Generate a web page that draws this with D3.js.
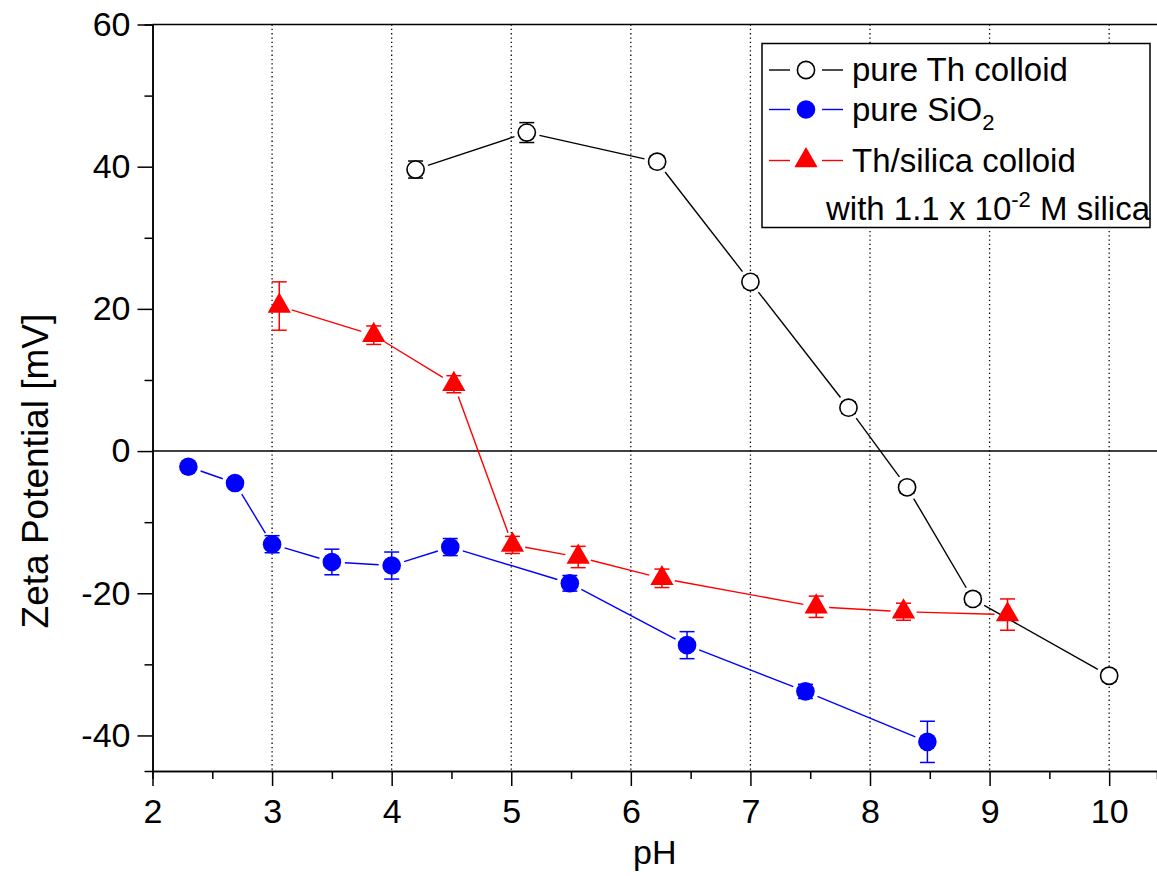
<!DOCTYPE html>
<html>
<head>
<meta charset="utf-8">
<script src="https://cdn.jsdelivr.net/npm/d3@7"></script>
<style>
  body { margin: 0; background: #fff; }
  svg { display: block; font-family: "Liberation Sans", Arial, sans-serif; }
  .axis path, .axis line { stroke: #000; stroke-width: 1.5; }
  .axis text { font-size: 34px; fill: #000; }
</style>
</head>
<body>
<div id="chart"></div>
<script>
// pure Th colloid
var phTh = [4.2, 5.13, 6.22, 7.0, 7.82, 8.31, 8.86, 10.0];
var zetaTh = [39.6, 44.8, 40.7, 23.8, 6.1, -5.1, -20.8, -31.6];
var errTh = [1.2, 1.4, 0.8, 0.8, 0.8, 0.8, 0.8, 0.8];

// pure SiO2
var phSi = [2.3, 2.69, 3.0, 3.5, 4.0, 4.49, 5.49, 6.47, 7.46, 8.48];
var zetaSi = [-2.2, -4.5, -13.1, -15.6, -16.1, -13.5, -18.6, -27.3, -33.8, -40.9];
var errSi = [0.5, 0.5, 1.2, 1.8, 1.9, 1.2, 1.1, 1.9, 1.0, 2.9];

// Th/silica colloid
var phThSi = [3.06, 3.85, 4.52, 5.01, 5.56, 6.26, 7.55, 8.28, 9.15];
var zetaThSi = [20.4, 16.3, 9.4, -13.2, -14.9, -17.9, -21.9, -22.6, -23.0];
var errThSi = [3.4, 1.3, 1.2, 1.2, 1.5, 1.3, 1.5, 1.2, 2.2];

var xTicks = [2, 3, 4, 5, 6, 7, 8, 9, 10];
var xMinor = [2.5, 3.5, 4.5, 5.5, 6.5, 7.5, 8.5, 9.5];
var yTicks = [-40, -20, 0, 20, 40, 60];
var yMinor = [-30, -10, 10, 30, 50];

var svgWidth = 1157, svgHeight = 876;
var margin = {top: 24.5, right: 0, bottom: 105, left: 152.5};
var width = svgWidth - margin.left - margin.right;
var height = svgHeight - margin.top - margin.bottom;

var svg = d3.select("#chart").append("svg")
    .attr("width", svgWidth)
    .attr("height", svgHeight);

var g = svg.append("g")
    .attr("transform", `translate(${margin.left}, ${margin.top})`);

var xScale = d3.scaleLinear().domain([2, 10.4]).range([0, width]);
var yScale = d3.scaleLinear().domain([-45, 60]).range([height, 0]);

// plain hyphen for negatives, like the original
var fmt = d => String(d);

// dotted vertical grid
g.selectAll(".grid")
    .data(xTicks.filter(d => d > 2))
    .enter().append("line")
    .attr("x1", d => xScale(d)).attr("x2", d => xScale(d))
    .attr("y1", 0).attr("y2", height)
    .attr("stroke", "#000")
    .attr("stroke-width", 1.3)
    .attr("stroke-dasharray", "1.3,3");

// zero line
g.append("line")
    .attr("x1", 0).attr("x2", width)
    .attr("y1", yScale(0)).attr("y2", yScale(0))
    .attr("stroke", "#000").attr("stroke-width", 1.5);

// top frame
g.append("line")
    .attr("x1", 0).attr("x2", width)
    .attr("y1", 0).attr("y2", 0)
    .attr("stroke", "#000").attr("stroke-width", 1.5);

// axes
g.append("g").attr("class", "axis")
    .attr("transform", `translate(0, ${height})`)
    .call(d3.axisBottom(xScale).tickValues(xMinor).tickSize(8).tickFormat(""));
var xAxis = g.append("g").attr("class", "axis")
    .attr("transform", `translate(0, ${height})`)
    .call(d3.axisBottom(xScale).tickValues(xTicks).tickFormat(fmt)
        .tickSize(15).tickPadding(13).tickSizeOuter(0));
xAxis.selectAll("text").attr("dy", "0.71em");

g.append("g").attr("class", "axis")
    .call(d3.axisLeft(yScale).tickValues(yMinor).tickSize(8).tickFormat(""));
g.append("g").attr("class", "axis")
    .call(d3.axisLeft(yScale).tickValues(yTicks).tickFormat(fmt)
        .tickSize(15).tickPadding(7).tickSizeOuter(0));

// axis titles
g.append("text")
    .attr("x", width / 2)
    .attr("y", height + 93)
    .attr("text-anchor", "middle")
    .style("font-size", "34px")
    .text("pH");

g.append("text")
    .attr("transform", "rotate(-90)")
    .attr("x", -(yScale(0) + 20))
    .attr("y", -margin.left + 48)
    .attr("text-anchor", "middle")
    .style("font-size", "37px")
    .text("Zeta Potential [mV]");

// helpers
function toPts(xs, ys, es) {
    return xs.map((x, i) => ({x: xScale(x), y: yScale(ys[i]), e: es[i], v: ys[i]}));
}

function drawSeries(pts, color, gap) {
    // error bars
    var eb = g.append("g").attr("stroke", color).attr("stroke-width", 1.5);
    pts.forEach(p => {
        var y1 = yScale(p.v + p.e), y2 = yScale(p.v - p.e);
        eb.append("line").attr("x1", p.x).attr("x2", p.x).attr("y1", y1).attr("y2", y2);
        eb.append("line").attr("x1", p.x - 7.5).attr("x2", p.x + 7.5).attr("y1", y1).attr("y2", y1);
        eb.append("line").attr("x1", p.x - 7.5).attr("x2", p.x + 7.5).attr("y1", y2).attr("y2", y2);
    });
    // connecting lines with gaps around markers
    var lg = g.append("g").attr("stroke", color).attr("stroke-width", 1.4);
    for (var i = 0; i < pts.length - 1; i++) {
        var a = pts[i], b = pts[i + 1];
        var dx = b.x - a.x, dy = b.y - a.y, len = Math.sqrt(dx * dx + dy * dy);
        if (len <= 2 * gap) continue;
        var ux = dx / len, uy = dy / len;
        lg.append("line")
            .attr("x1", a.x + ux * gap).attr("y1", a.y + uy * gap)
            .attr("x2", b.x - ux * gap).attr("y2", b.y - uy * gap);
    }
}

var ptsTh = toPts(phTh, zetaTh, errTh);
var ptsSi = toPts(phSi, zetaSi, errSi);
var ptsThSi = toPts(phThSi, zetaThSi, errThSi);

drawSeries(ptsThSi, "#ff0000", 13);
drawSeries(ptsSi, "#0000ff", 13);
drawSeries(ptsTh, "#000000", 13);

var tri = d3.symbol().type(d3.symbolTriangle).size(235);

g.selectAll(".tri").data(ptsThSi).enter().append("path")
    .attr("d", tri)
    .attr("transform", d => `translate(${d.x}, ${d.y})`)
    .attr("fill", "#ff0000");

g.selectAll(".dot").data(ptsSi).enter().append("circle")
    .attr("cx", d => d.x).attr("cy", d => d.y).attr("r", 9.3)
    .attr("fill", "#0000ff");

g.selectAll(".open").data(ptsTh).enter().append("circle")
    .attr("cx", d => d.x).attr("cy", d => d.y).attr("r", 8.6)
    .attr("fill", "#fff").attr("stroke", "#000").attr("stroke-width", 1.6);

// legend
var leg = svg.append("g");
leg.append("rect")
    .attr("x", 762).attr("y", 43.5).attr("width", 388).attr("height", 184)
    .attr("fill", "#fff").attr("stroke", "#000").attr("stroke-width", 1.5);

var legRows = [
    {color: "#000000", y: 70, type: "open"},
    {color: "#0000ff", y: 109.5, type: "dot"},
    {color: "#ff0000", y: 160.5, type: "tri"}
];
legRows.forEach(r => {
    leg.append("line").attr("x1", 769).attr("x2", 790).attr("y1", r.y).attr("y2", r.y)
        .attr("stroke", r.color).attr("stroke-width", 1.4);
    leg.append("line").attr("x1", 822).attr("x2", 843).attr("y1", r.y).attr("y2", r.y)
        .attr("stroke", r.color).attr("stroke-width", 1.4);
    if (r.type === "open") {
        leg.append("circle").attr("cx", 806).attr("cy", r.y).attr("r", 8.6)
            .attr("fill", "#fff").attr("stroke", "#000").attr("stroke-width", 1.6);
    } else if (r.type === "dot") {
        leg.append("circle").attr("cx", 806).attr("cy", r.y).attr("r", 9.3).attr("fill", r.color);
    } else {
        leg.append("path").attr("d", tri).attr("transform", `translate(806, ${r.y})`).attr("fill", r.color);
    }
});

var legText = leg.append("g").style("font-size", "33px");
legText.append("text").attr("x", 852).attr("y", 81).text("pure Th colloid");
var t2 = legText.append("text").attr("x", 852).attr("y", 120.5);
t2.append("tspan").text("pure SiO");
t2.append("tspan").attr("dy", 9).style("font-size", "22px").text("2");
legText.append("text").attr("x", 852).attr("y", 172).text("Th/silica colloid");
var t4 = legText.append("text").attr("x", 826).attr("y", 219.5);
t4.append("tspan").text("with 1.1 x 10");
t4.append("tspan").attr("dy", -13).style("font-size", "22px").text("-2");
t4.append("tspan").attr("dy", 13).text(" M silica");
</script>
</body>
</html>
